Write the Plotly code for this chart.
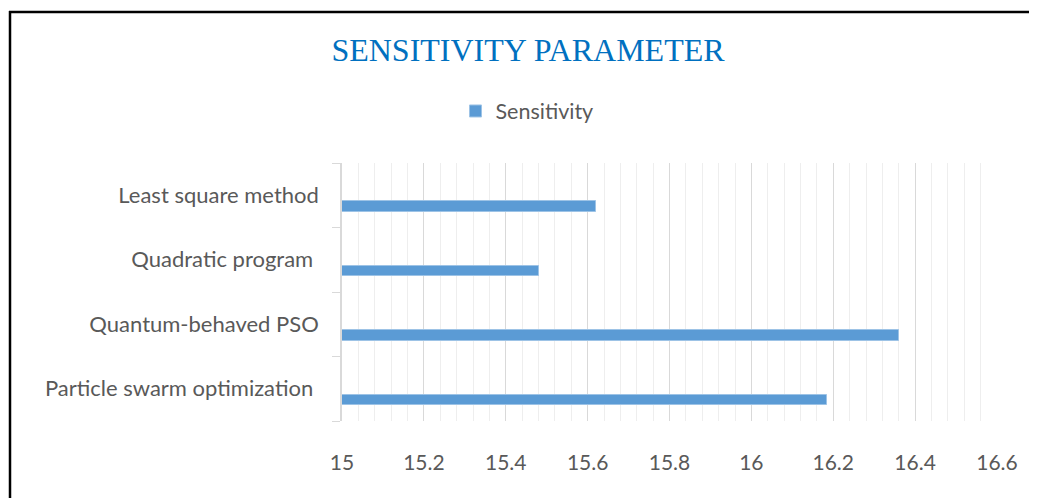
import plotly.graph_objects as go

categories = ["Particle swarm optimization ", "Quantum-behaved PSO", "Quadratic program ", "Least square method"]
sensitivity = [16.185, 16.36, 15.48, 15.62]
x_ticks = [15, 15.2, 15.4, 15.6, 15.8, 16, 16.2, 16.4, 16.6]
x_tick_labels = ["15", "15.2", "15.4", "15.6", "15.8", "16", "16.2", "16.4", "16.6"]

OFF = 8  # page body margin
W, H = 1037 - OFF, 498 - OFF
L, R, T, B = 342 - OFF, 40, 163 - OFF, 77
pw, ph = W - L - R, H - T - B

def px_x(px):
    return (px - OFF - L) / pw

def px_y(py):
    return (H - B - (py - OFF)) / ph

fig = go.Figure()
fig.add_trace(go.Bar(
    y=categories, x=sensitivity, orientation="h", name="Sensitivity",
    base=0,
    marker=dict(color="#5B9BD5", line=dict(color="#9DC3E6", width=1)),
    offset=-0.257, width=0.164,
    showlegend=True,
))

fig.update_layout(
    width=W, height=H,
    margin=dict(l=L, r=R, t=T, b=B),
    paper_bgcolor="white", plot_bgcolor="white",
    title=dict(text="SENSITIVITY PARAMETER", x=(528 - OFF) / W, xref="container", xanchor="center",
               y=1 - (50 - OFF) / H, yref="container", yanchor="middle",
               font=dict(family="Liberation Serif", size=32, color="#0070C0")),
    legend=dict(orientation="h", x=px_x(527), xanchor="center", y=px_y(111), yanchor="middle",
                font=dict(family="Lato", size=21.5, color="#595959"),
                itemwidth=30, bgcolor="rgba(0,0,0,0)"),
    bargap=0,
    shapes=[
        dict(type="line", xref="paper", yref="paper", x0=px_x(9), x1=px_x(1045), y0=px_y(12), y1=px_y(12),
             line=dict(color="black", width=2.5)),
        dict(type="line", xref="paper", yref="paper", x0=px_x(10), x1=px_x(10), y0=px_y(11), y1=px_y(505),
             line=dict(color="black", width=2.5)),
    ],
)

fig.update_xaxes(
    range=[15, 16.6], tickvals=x_ticks, ticktext=x_tick_labels,
    showgrid=True, gridcolor="#D9D9D9", gridwidth=1,
    minor=dict(dtick=0.04, showgrid=True, gridcolor="#EEEEEE", gridwidth=1),
    zeroline=False, showline=False, ticks="",
    ticklabelstandoff=27,
    tickfont=dict(family="Lato", size=21, color="#595959"),
)
fig.update_yaxes(
    type="category", categoryorder="array", categoryarray=categories,
    showline=True, linecolor="#D9D9D9", linewidth=1.5,
    ticks="outside", tickson="boundaries", ticklen=8, tickcolor="#D9D9D9",
    showgrid=False, ticklabelstandoff=17,
    tickfont=dict(family="Lato", size=22, color="#595959"),
)

fig.write_html("out.html")
